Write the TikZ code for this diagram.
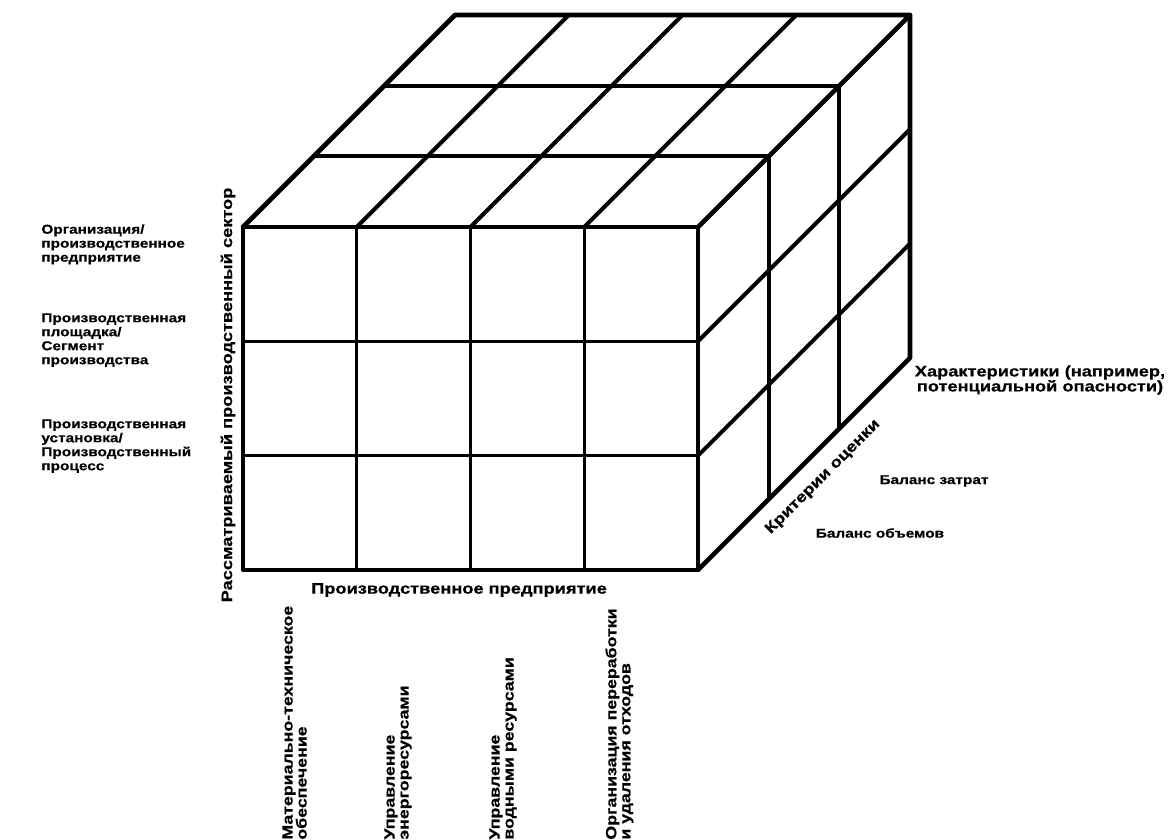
\documentclass[tikz,border=0pt]{standalone}
\usepackage{fontspec}
\setmainfont{Liberation Sans}[FakeStretch=1.2, BoldFeatures={FakeBold=0.6}]
\usetikzlibrary{positioning}

\begin{document}
\begin{tikzpicture}[
    x=0.5pt, y=-0.5pt,
    edge/.style={line width=2.3pt, line cap=round, line join=round},
    grid/.style={line width=1.5pt},
    topgrid/.style={line width=2pt},
    lbl/.style={font=\bfseries\fontsize{6.4}{7}\selectfont, inner sep=0pt, align=left},
    area/.style={font=\bfseries\fontsize{7.4}{7}\selectfont, inner sep=0pt, align=left, rotate=90, anchor=north west},
    axis/.style={font=\bfseries\fontsize{7.6}{7.5}\selectfont, inner sep=0pt}
]
    \useasboundingbox (0,0) rectangle (1169,840);

    % Cube: 4 columns, 3 rows, 3 layers deep
    \begin{scope}[shift={(243,227)}, x={(56.875pt,0pt)}, y={(0pt,-57.15pt)}, z={(35.33pt,35.33pt)}]
        % front face
        \foreach \i in {1,2,3} \draw[grid] (\i,0,0) -- (\i,3,0);
        \foreach \j in {1,2} \draw[grid] (0,\j,0) -- (4,\j,0);
        % top face
        \foreach \i in {1,2,3} \draw[topgrid] (\i,0,0) -- (\i,0,3);
        \foreach \k in {1,2} \draw[topgrid] (0,0,\k) -- (4,0,\k);
        % right face
        \foreach \k in {1,2} \draw[topgrid] (4,0,\k) -- (4,3,\k);
        \foreach \j in {1,2} \draw[topgrid] (4,\j,0) -- (4,\j,3);
        % outline
        \draw[edge] (0,0,0) -- (4,0,0) -- (4,3,0) -- (0,3,0) -- cycle;
        \draw[edge] (0,0,0) -- (0,0,3) -- (4,0,3) -- (4,0,0);
        \draw[edge] (4,0,3) -- (4,3,3) -- (4,3,0);
    \end{scope}

    % Levels
    \node[lbl, anchor=north west] (org) at (41,224) {Организация/\\производственное\\предприятие};
    \node[lbl, anchor=north west] (site) at (41,313) {Производственная\\площадка/\\Сегмент\\производства};
    \node[lbl, anchor=north west] (unit) at (41,419) {Производственная\\установка/\\Производственный\\процесс};

    % Axes
    \node[axis, rotate=90] (sector) at (228,395) {Рассматриваемый производственный сектор};
    \node[axis] (plant) at (459,590) {Производственное предприятие};

    % Areas
    \node[area] (supply) at (282,840) {Материально-техническое\\обеспечение};
    \node[area] (energy) at (384,840) {Управление\\энергоресурсами};
    \node[area] (water) at (489,840) {Управление\\водными ресурсами};
    \node[area] (waste) at (605,840) {Организация переработки\\и удаления отходов};

    % Criteria
    \node[axis, align=center] (hazard) at (1040,380) {Характеристики (например,\\потенциальной опасности)};
    \node[lbl] (cost) at (934,481) {Баланс затрат};
    \node[lbl] (volume) at (880,533) {Баланс объемов};
    \node[axis, rotate=45] (criteria) at (823,477) {Критерии оценки};
\end{tikzpicture}
\end{document}
